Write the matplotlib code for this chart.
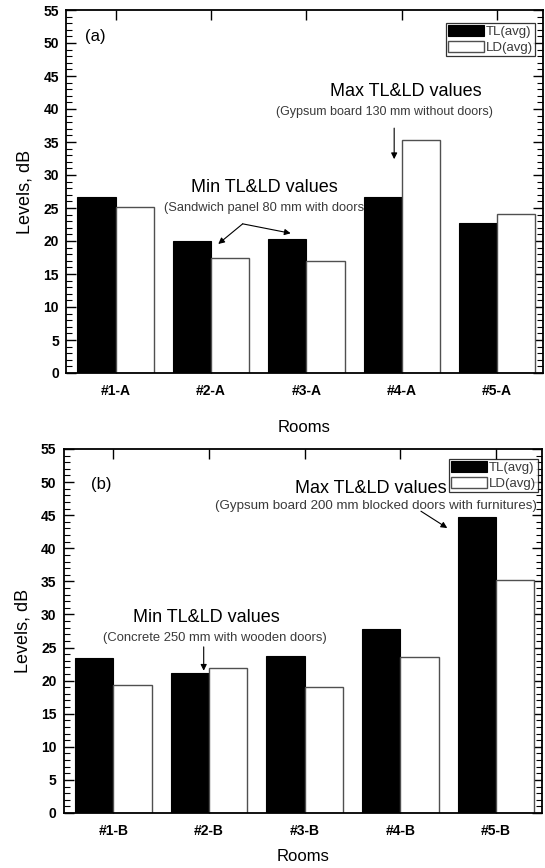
import matplotlib.pyplot as plt
import numpy as np
from matplotlib.ticker import MultipleLocator

plt.rcParams['font.family'] = ['Liberation Sans', 'DejaVu Sans']

rooms_a = ['#1-A', '#2-A', '#3-A', '#4-A', '#5-A']
tl_a = [26.6, 20.0, 20.25, 26.7, 22.7]
ld_a = [25.1, 17.4, 17.0, 35.3, 24.1]

rooms_b = ['#1-B', '#2-B', '#3-B', '#4-B', '#5-B']
tl_b = [23.4, 21.2, 23.7, 27.8, 44.7]
ld_b = [19.3, 21.85, 19.1, 23.6, 35.2]

W, H = 545, 868
fig = plt.figure(figsize=(W / 100, H / 100), dpi=100)

note_col = '#3a3a3a'


def px_axes(left, right, top, bottom):
    return fig.add_axes([left / W, 1 - bottom / H, (right - left) / W, (bottom - top) / H])


def draw_panel(ax, rooms, tl, ld, legend_anchor, xpad):
    x = np.arange(len(rooms))
    w = 0.4
    ax.bar(x - w / 2, tl, w, color='black', edgecolor='black', lw=0.8,
           label='TL(avg)', zorder=2)
    ax.bar(x + w / 2, ld, w, color='white', edgecolor='#505050', lw=1.0,
           label='LD(avg)', zorder=2)
    ax.set_xlim(-0.52, 4.48)
    ax.set_ylim(0, 55)
    ax.set_xticks(x)
    ax.set_xticklabels(rooms, fontsize=10, fontweight='bold')
    ax.yaxis.set_major_locator(MultipleLocator(5))
    ax.yaxis.set_minor_locator(MultipleLocator(1))
    for lab in ax.get_yticklabels():
        lab.set_fontsize(10)
        lab.set_fontweight('bold')
    ax.tick_params(axis='both', which='major', direction='in', length=7, width=1,
                   top=True, right=True, pad=5)
    ax.tick_params(axis='y', which='minor', direction='in', length=4, width=0.8,
                   right=True, left=True)
    ax.tick_params(axis='x', which='major', pad=8)
    for s in ax.spines.values():
        s.set_linewidth(1.3)
    ax.set_ylabel('Levels, dB', fontsize=13, labelpad=7)
    ax.set_xlabel('Rooms', fontsize=12, labelpad=xpad)
    leg = ax.legend(loc='upper right', bbox_to_anchor=legend_anchor, fontsize=9.5,
                    frameon=True, fancybox=False, handlelength=2.7, handleheight=0.9,
                    handletextpad=0.15, borderpad=0.15, labelspacing=0.2,
                    borderaxespad=0)
    leg.get_frame().set_edgecolor('black')
    leg.get_frame().set_linewidth(0.9)
    for t in leg.get_texts():
        t.set_color(note_col)
    leg.set_zorder(5)


arr = dict(arrowstyle='-|>', color='black', lw=0.8, mutation_scale=9,
           shrinkA=0, shrinkB=0)

# panel (a)
ax1 = px_axes(66, 543, 10, 373)
draw_panel(ax1, rooms_a, tl_a, ld_a, (0.983, 0.964), 16)
ax1.text(0.04, 0.927, '(a)', transform=ax1.transAxes, fontsize=12, va='center')
ax1.text(3.04, 42.7, 'Max TL&LD values', fontsize=13, ha='center', va='center')
ax1.text(2.82, 39.5, '(Gypsum board 130 mm without doors)', fontsize=9,
         ha='center', va='center', color=note_col)
ax1.annotate('', xy=(2.92, 32.4), xytext=(2.92, 37.1), arrowprops=arr)
ax1.text(1.555, 28.1, 'Min TL&LD values', fontsize=13, ha='center', va='center')
ax1.text(0.507, 25.0, '(Sandwich panel 80 mm with doors)', fontsize=9.3,
         ha='left', va='center', color=note_col, zorder=1)
ax1.annotate('', xy=(1.076, 19.55), xytext=(1.332, 22.6), arrowprops=arr)
ax1.annotate('', xy=(1.835, 21.17), xytext=(1.332, 22.6), arrowprops=arr)

# panel (b)
ax2 = px_axes(63.5, 542, 449, 813)
draw_panel(ax2, rooms_b, tl_b, ld_b, (0.9916, 0.9725), 8)
ax2.text(0.057, 0.902, '(b)', transform=ax2.transAxes, fontsize=12, va='center')
ax2.text(2.693, 49.1, 'Max TL&LD values', fontsize=13, ha='center', va='center')
ax2.text(2.75, 46.4, '(Gypsum board 200 mm blocked doors with furnitures)',
         fontsize=9.6, ha='center', va='center', color=note_col)
ax2.annotate('', xy=(3.49, 43.06), xytext=(3.215, 45.6), arrowprops=arr)
ax2.text(0.969, 29.5, 'Min TL&LD values', fontsize=13, ha='center', va='center')
ax2.text(1.063, 26.5, '(Concrete 250 mm with wooden doors)', fontsize=9.4,
         ha='center', va='center', color=note_col)
ax2.annotate('', xy=(0.945, 21.5), xytext=(0.945, 25.1), arrowprops=arr)

fig.savefig('out.png', dpi=100)
